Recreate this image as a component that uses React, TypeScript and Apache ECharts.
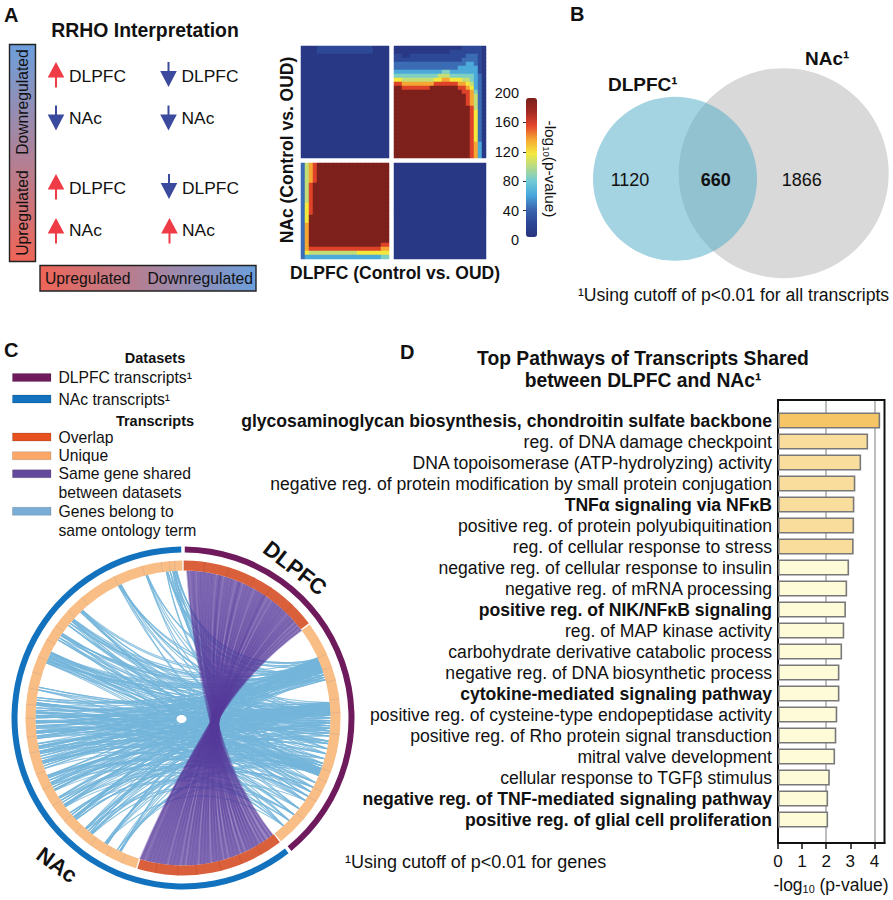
import React, { useEffect, useRef } from "react";
import * as echarts from "echarts";

const FONT = "'Liberation Sans', Arial, sans-serif";

// Panel A heatmap (level per cell)
const heatLevels = [5, 22, 42, 62, 85, 105, 120, 140, 162, 198];
const heatTopLeft = [
  "00111111100", "00000000000", "00000000000", "00000000000", "00000000000", "00000000000", "00000000000",
  "00000000000", "00000000000", "00000000000", "00000000000", "00000000000", "00000000000", "00000000000",
];
const heatBottomRight = ["00", "00"];
const heatTopRight = [
  "00000000000000000111110",
  "00000000000000111111110",
  "11001111111111111122210",
  "11111111111111111222210",
  "22222222222222222233210",
  "22222222222222223333310",
  "33333333333344333333310",
  "44444444444555444444320",
  "66555555556677666554320",
  "88777777778888887765320",
  "99888888899999998876320",
  "99999999999999999887420",
  "99999999999999999987520",
  "99999999999999999987520",
  "99999999999999999987520",
  "99999999999999999998520",
  "99999999999999999998620",
  "99999999999999999998620",
  "99999999999999999998620",
  "99999999999999999998620",
  "99999999999999999998620",
  "99999999999999999998620",
  "99999999999999999998620",
  "99999999999999999998620",
  "99999999999999999998730",
  "99999999999999999998730",
  "99999999999999999998730",
  "99999999999999999998730",
];
const heatBottomLeft = [
  "2578999999999999999999",
  "2578999999999999999999",
  "2578999999999999999999",
  "2578999999999999999999",
  "2578999999999999999999",
  "2589999999999999999999",
  "2589999999999999999999",
  "2589999999999999999999",
  "2589999999999999999999",
  "2589999999999999999999",
  "2689999999999999999999",
  "2689999999999999999999",
  "2689999999999999999999",
  "2699999999999999999999",
  "2699999999999999999999",
  "2799999999999999999999",
  "2799999999999999999999",
  "2799999999999999999999",
  "2799999999999999999999",
  "2799999999999999999999",
  "2799999999999999999988",
  "2788888888888888888877",
  "2655555555555566666666",
  "2333333333333333333344",
];
const colorbarRange = [0, 200];
const colorbarTickValues = [40, 80, 120, 160];
const heatColors = ["#27347f", "#2c4594", "#3a66b0", "#48a6dc", "#6fcbd6", "#b3d98a", "#f4e83d", "#f6a733", "#e4452a", "#a42a22", "#7a1f1b"];

// Panel C chord diagram (degrees clockwise from the top)
const outerArcs = [141, 218];
const innerArcs = [53, 88, 55, 162];
const outerColors = ["#6e1a5c", "#1272be"];
const innerColors = ["#d9603a", "#f9bd86", "#d9603a", "#f9bd86"];
const purpleDlpfc = [1.5, 3, 4, 6, 7.5, 9, 10.5, 12, 14, 15, 17, 18.5, 20, 22, 23, 25, 26.5, 28, 30, 31.5, 33, 34, 36, 38, 39.5, 41, 42.5, 44, 46, 47.5, 49, 50.5, 52, 53.5];
const purpleNac = [142.5, 144, 146, 147.5, 149.5, 151, 152.5, 154, 156, 158, 159.5, 161, 163, 165, 166.5, 168, 170, 171.5, 173, 175, 176.5, 178, 180, 182, 183.5, 185, 187, 188.5, 190, 191.5, 193, 194.5, 196, 197];
const nacEnds = [
  205, 205.5, 206.5, 211, 211.5, 212,
  218, 218.5, 219, 220, 221, 221.5,
  226.5, 227, 227.5, 228, 229, 230,
  233, 233.5, 234, 235, 236, 237, 237.5,
  240.5, 241, 242, 243, 243.5, 244, 245, 246, 246.5, 247,
  250, 251, 252, 252.5, 253, 254, 255, 256, 256.5, 257, 258, 258.5, 259, 260,
  262, 262.5, 263, 264, 264.5, 265, 266, 266.5, 267, 268, 268.5, 269, 270, 270.5, 271, 272, 272.5, 273, 274, 275, 275.5, 276, 277, 278,
  281, 282,
  292, 292.5, 293, 293.5, 294, 294.5, 295, 295.5, 296, 296.5,
  302, 303, 304, 304.5, 305,
  309, 310, 311, 311.5, 312,
  316, 316.5, 317,
  334, 334.5, 335,
  345.5, 346,
  353.5, 354, 355, 356, 356.5, 357, 357.5,
];
const dlpfcEnds = [
  66, 66.5, 67, 67.5, 68, 68.5, 69, 69.5, 70, 70.5, 71, 71.5, 72, 73, 74, 75,
  84, 84.5, 85, 85.5, 86, 86.5, 87, 87.5, 88, 88.5, 89, 90, 91, 92, 93, 94, 95, 96, 97,
  99, 100, 102, 104, 106,
  108, 109, 110, 110.5, 111, 111.5, 112, 112.5, 113,
  116, 118, 120, 122, 124,
  128, 131, 134, 137,
];
const trackTicks = [203, 209, 216, 223, 229, 236, 243, 249, 257, 263, 270, 275, 281, 287, 293, 300, 306, 313, 320, 334, 345, 352, 355, 357, 66, 71, 76, 83, 88, 96, 110, 114, 118, 122, 130];
const overlapTicks = [8, 17, 27, 34, 44, 150, 158, 166, 175, 182, 190];

// Panel D bars
const pathways = [
  "glycosaminoglycan biosynthesis, chondroitin sulfate backbone",
  "reg. of DNA damage checkpoint",
  "DNA topoisomerase (ATP-hydrolyzing) activity",
  "negative reg. of protein modification by small protein conjugation",
  "TNFα signaling via NFκB",
  "positive reg. of protein polyubiquitination",
  "reg. of cellular response to stress",
  "negative reg. of cellular response to insulin",
  "negative reg. of mRNA processing",
  "positive reg. of NIK/NFκB signaling",
  "reg. of MAP kinase activity",
  "carbohydrate derivative catabolic process",
  "negative reg. of DNA biosynthetic process",
  "cytokine-mediated signaling pathway",
  "positive reg. of cysteine-type endopeptidase activity",
  "positive reg. of Rho protein signal transduction",
  "mitral valve development",
  "cellular response to TGFβ stimulus",
  "negative reg. of TNF-mediated signaling pathway",
  "positive reg. of glial cell proliferation",
];
const boldPathways = [
  "glycosaminoglycan biosynthesis, chondroitin sulfate backbone",
  "TNFα signaling via NFκB",
  "positive reg. of NIK/NFκB signaling",
  "cytokine-mediated signaling pathway",
  "negative reg. of TNF-mediated signaling pathway",
  "positive reg. of glial cell proliferation",
];
const pValues = [4.24, 3.74, 3.45, 3.21, 3.17, 3.16, 3.14, 2.95, 2.87, 2.82, 2.75, 2.66, 2.55, 2.55, 2.46, 2.42, 2.37, 2.15, 2.08, 2.08];
const barTicks = [0, 1, 2, 3, 4];
const barGuides = [2, 4];

const CX = 183;
const CY = 718;
const R_IN = 147.5;

function polar(deg: number, r = R_IN) {
  const a = (deg * Math.PI) / 180;
  return [CX + r * Math.sin(a), CY - r * Math.cos(a)];
}
function fmt(p: number[]) {
  return `${p[0].toFixed(1)} ${p[1].toFixed(1)}`;
}
// Control point of a chord: on the bisector of its two ends, nearer the rim for short chords.
function chordCtrl(a: number, b: number) {
  const diff = Math.abs(a - b) > 180 ? 360 - Math.abs(a - b) : Math.abs(a - b);
  const chord = Math.sin((diff / 2) * (Math.PI / 180));
  let mid = (a + b) / 2;
  if (Math.abs(a - b) > 180) mid += 180;
  return polar(mid, R_IN * (1 - chord) * 0.7);
}
function cells(rows: string[]) {
  const out: number[][] = [];
  rows.forEach((row, y) => row.split("").forEach((c, x) => out.push([x, y, heatLevels[+c]])));
  return out;
}
function range(n: number) {
  return Array.from({ length: n }, (_, i) => String(i));
}

function T(text: string, x: number, y: number, o: any = {}) {
  return {
    type: "text",
    x,
    y,
    rotation: o.rotation || 0,
    z: 100,
    silent: true,
    style: {
      text,
      fontFamily: FONT,
      fontSize: o.size || 16,
      fontWeight: o.bold ? "bold" : "normal",
      fill: o.fill || "#111",
      align: o.align || "left",
      verticalAlign: "middle",
      rich: o.rich,
    },
  };
}
function arrow(x: number, y: number, up: boolean) {
  const p = up
    ? [[x, y], [x + 8.3, y + 15.5], [x + 1, y + 15.5], [x + 1, y + 25.5], [x - 1, y + 25.5], [x - 1, y + 15.5], [x - 8.3, y + 15.5]]
    : [[x, y + 25], [x + 8.3, y + 9], [x + 1, y + 9], [x + 1, y], [x - 1, y], [x - 1, y + 9], [x - 8.3, y + 9]];
  return { type: "polygon", silent: true, shape: { points: p }, style: { fill: up ? "#ee3b46" : "#3c4a9e" } };
}
function legendBar(y: number, fill: string) {
  return { type: "rect", silent: true, shape: { x: 12.5, y: y - 4, width: 38.5, height: 8 }, style: { fill, stroke: "#00000022", lineWidth: 1 } };
}

function buildGraphics() {
  const subRich = (size: number) => ({
    a: { fontFamily: FONT, fontSize: size, fill: "#111" },
    s: { fontFamily: FONT, fontSize: size * 0.62, fill: "#111", verticalAlign: "bottom", padding: [size * 0.5, 0, 0, 0] },
  });
  const redBlueV = new echarts.graphic.LinearGradient(0, 0, 0, 1, [
    { offset: 0, color: "#6c9fdc" },
    { offset: 1, color: "#ef6557" },
  ]);
  const redBlueH = new echarts.graphic.LinearGradient(0, 0, 1, 0, [
    { offset: 0, color: "#ef6557" },
    { offset: 1, color: "#6c9fdc" },
  ]);
  return [
    T("A", 4, 15, { size: 20, bold: true }),
    T("B", 570, 14, { size: 20, bold: true }),
    T("C", 4, 350, { size: 20, bold: true }),
    T("D", 400, 352, { size: 20, bold: true }),

    T("RRHO Interpretation", 145, 30, { size: 19.4, bold: true, align: "center" }),
    { type: "rect", silent: true, shape: { x: 9.5, y: 44.5, width: 26, height: 217 }, style: { fill: redBlueV, stroke: "#222", lineWidth: 1.4 } },
    { type: "rect", silent: true, shape: { x: 40, y: 265.5, width: 216, height: 25.5 }, style: { fill: redBlueH, stroke: "#222", lineWidth: 1.4 } },
    T("Downregulated", 22, 102, { size: 15.7, rotation: Math.PI / 2, align: "center" }),
    T("Upregulated", 22, 213, { size: 15.7, rotation: Math.PI / 2, align: "center" }),
    T("Upregulated", 45, 278, { size: 15.7 }),
    T("Downregulated", 253, 278, { size: 15.7, align: "right" }),
    arrow(56, 62, true), arrow(168.5, 62, false),
    arrow(56, 105.5, false), arrow(168.5, 105.5, false),
    arrow(56, 174, true), arrow(169, 174, false),
    arrow(56, 218, true), arrow(169.5, 218, true),
    T("DLPFC", 69, 76, { size: 17.4 }), T("DLPFC", 181.5, 76, { size: 17.4 }),
    T("NAc", 69, 118, { size: 17.4 }), T("NAc", 181.5, 118, { size: 17.4 }),
    T("DLPFC", 69, 188, { size: 17.4 }), T("DLPFC", 182, 188, { size: 17.4 }),
    T("NAc", 69, 229.5, { size: 17.4 }), T("NAc", 182, 229.5, { size: 17.4 }),
    T("NAc (Control vs. OUD)", 287, 150, { size: 17.5, bold: true, rotation: Math.PI / 2, align: "center" }),
    T("DLPFC (Control vs. OUD)", 395, 272.5, { size: 17.5, bold: true, align: "center" }),
    T("{a|-log}{s|10}{a|(p-value)}", 550, 169, { rotation: -Math.PI / 2, align: "center", rich: subRich(15.4) }),

    { type: "circle", silent: true, shape: { cx: 783.7, cy: 173.2, r: 105 }, style: { fill: "#d9d9d9" } },
    { type: "circle", silent: true, shape: { cx: 675, cy: 178.7, r: 82 }, style: { fill: "rgba(83,172,200,0.53)" } },
    T("DLPFC¹", 608, 84, { size: 19, bold: true }),
    T("NAc¹", 805, 58, { size: 19, bold: true }),
    T("1120", 630, 180, { size: 18, align: "center" }),
    T("660", 715.7, 180, { size: 18, bold: true, align: "center" }),
    T("1866", 801.7, 180, { size: 18, align: "center" }),
    T("¹Using cutoff of p<0.01 for all transcripts", 578, 295, { size: 17.6 }),

    T("Datasets", 155, 358, { size: 14.5, bold: true, align: "center" }),
    legendBar(377.5, "#6e1a5c"),
    T("DLPFC transcripts¹", 58.5, 377, { size: 15.7 }),
    legendBar(399, "#1272be"),
    T("NAc transcripts¹", 58.5, 399, { size: 15.7 }),
    T("Transcripts", 155, 421, { size: 14.5, bold: true, align: "center" }),
    legendBar(437, "#e5521f"),
    T("Overlap", 58.5, 437, { size: 15.7 }),
    legendBar(455.7, "#fba768"),
    T("Unique", 58.5, 455.5, { size: 15.7 }),
    legendBar(473.7, "#63499b"),
    T("Same gene shared", 58.5, 473.5, { size: 15.7 }),
    T("between datasets", 58.5, 492.5, { size: 15.7 }),
    legendBar(511.3, "#79add6"),
    T("Genes belong to", 58.5, 511, { size: 15.7 }),
    T("same ontology term", 58.5, 530, { size: 15.7 }),
    T("DLPFC", 295, 568, { size: 22, bold: true, rotation: -0.66, align: "center" }),
    T("NAc", 57, 865, { size: 22, bold: true, rotation: -0.63, align: "center" }),
    { type: "ellipse", silent: true, z: 100, shape: { cx: 181.5, cy: 719, rx: 5, ry: 4 }, style: { fill: "#fff" } },

    T("Top Pathways of Transcripts Shared", 643, 358, { size: 19.3, bold: true, align: "center" }),
    T("between DLPFC and NAc¹", 643, 380, { size: 19.3, bold: true, align: "center" }),
    T("¹Using cutoff of p<0.01 for genes", 345, 862, { size: 18 }),
    T("{a|-log}{s|10}{a| (p-value)}", 831, 885, { align: "center", rich: subRich(17.5) }),
  ];
}

function heatSeries(rows: string[], index: number) {
  return {
    type: "heatmap",
    xAxisIndex: index,
    yAxisIndex: index,
    data: cells(rows),
    silent: true,
    itemStyle: { borderWidth: 0 },
    progressive: 0,
  };
}

function buildOption() {
  const heatGrids = [
    { left: 301, top: 46, width: 88, height: 112 },
    { left: 394, top: 46, width: 92, height: 112 },
    { left: 301, top: 163, width: 88, height: 96 },
    { left: 394, top: 163, width: 92, height: 96 },
  ];
  const heatRows = [heatTopLeft, heatTopRight, heatBottomLeft, heatBottomRight];
  const hiddenCat = (rows: string[], axis: "x" | "y", gridIndex: number) => ({
    type: "category",
    gridIndex,
    show: false,
    inverse: axis === "y",
    data: axis === "x" ? range(rows[0].length) : range(rows.length),
  });

  const n = dlpfcEnds.length;
  const blueData = [
    ...nacEnds.map((a, i) => [a, dlpfcEnds[(i * 23) % n]]),
    ...nacEnds.map((a, i) => [a, dlpfcEnds[(i * 37 + 7) % n]]),
    ...nacEnds.map((a, i) => [a, dlpfcEnds[(i * 11 + 31) % n]]),
  ];
  const last = purpleDlpfc.length - 1;
  const purpleHull = [[purpleDlpfc[0], purpleDlpfc[last], purpleNac[0], purpleNac[last]]];
  const streakData = [
    ...purpleDlpfc.map((a, i) => [a, purpleNac[i]]),
    ...purpleDlpfc.slice(0, -4).map((a, i) => [a + 0.6, purpleNac[i + 4] - 0.6]),
    ...purpleDlpfc.slice(3).map((a, i) => [a - 0.5, purpleNac[i] + 0.4]),
  ];
  const tickData = trackTicks.map((a) => [a, 0]).concat(overlapTicks.map((a) => [a, 1]));

  const purpleCtrl = (deg: number) => {
    const t = (deg - 1) / 53;
    return [198 + 9 * t, 742 - 44 * t];
  };
  const rimTo = (angles: number[]) => angles.map((d) => `L${fmt(polar(d))}`).join(" ");

  return {
    animation: false,
    textStyle: { fontFamily: FONT },
    graphic: buildGraphics(),
    grid: [
      ...heatGrids,
      { left: 526, top: 93, width: 11, height: 147 },
      { left: 778, top: 400, width: 106.5, height: 443, show: true, borderColor: "#111", borderWidth: 2, backgroundColor: "transparent", z: 3 },
      { left: 778, top: 410, width: 106.5, height: 420 },
    ],
    xAxis: [
      ...heatRows.map((r, i) => hiddenCat(r, "x", i)),
      { type: "category", gridIndex: 4, show: false, data: ["0"] },
      {
        type: "value",
        gridIndex: 5,
        min: 0,
        max: 4.42,
        interval: 1,
        splitLine: { show: false },
        axisLine: { show: true, lineStyle: { color: "#111", width: 2 } },
        axisTick: { show: true, customValues: barTicks, length: 6, lineStyle: { color: "#111", width: 1.5 } },
        axisLabel: { customValues: barTicks, color: "#111", fontSize: 17, fontFamily: FONT, margin: 10, hideOverlap: false },
      },
      { type: "value", gridIndex: 6, min: 0, max: 4.42, show: false },
    ],
    yAxis: [
      ...heatRows.map((r, i) => hiddenCat(r, "y", i)),
      {
        type: "value",
        gridIndex: 4,
        min: 0,
        max: 200,
        interval: 40,
        splitLine: { show: false },
        axisLine: { show: false },
        axisTick: { show: true, customValues: colorbarTickValues, length: 3, lineStyle: { color: "#333" } },
        axisLabel: { color: "#111", fontSize: 14.5, fontFamily: FONT, margin: 7 },
      },
      { type: "value", gridIndex: 5, min: 0, max: 1, show: false },
      {
        type: "category",
        gridIndex: 6,
        inverse: true,
        data: pathways,
        axisLine: { show: false },
        axisTick: { show: false },
        axisLabel: {
          interval: 0,
          margin: 6,
          fontSize: 17.6,
          fontFamily: FONT,
          color: "#111",
          formatter: (v: string) => (boldPathways.includes(v) ? `{b|${v}}` : v),
          rich: { b: { fontWeight: "bold", fontSize: 17.6, fontFamily: FONT, color: "#111" } },
        },
      },
    ],
    visualMap: {
      type: "continuous",
      seriesIndex: [0, 1, 2, 3],
      min: colorbarRange[0],
      max: colorbarRange[1],
      left: 526,
      top: 98,
      itemWidth: 11,
      itemHeight: 139,
      padding: 0,
      text: ["", ""],
      calculable: false,
      inRange: { color: heatColors },
    },
    series: [
      ...heatRows.map((r, i) => heatSeries(r, i)),
      {
        type: "line",
        xAxisIndex: 5,
        yAxisIndex: 5,
        data: [],
        silent: true,
        z: 1,
        markLine: {
          silent: true,
          symbol: "none",
          z: 1,
          label: { show: false },
          lineStyle: { color: "#bdbdbd", width: 2, type: "solid" },
          data: barGuides.map((v) => ({ xAxis: v })),
        },
      },
      {
        type: "bar",
        xAxisIndex: 6,
        yAxisIndex: 6,
        barWidth: 16,
        z: 4,
        silent: true,
        data: pValues.map((v, i) => ({
          value: v,
          itemStyle: {
            color: i === 0 ? "#f6c566" : i < 7 ? "#f9dd9c" : "#fefbd8",
            borderColor: "#787878",
            borderWidth: 1.6,
          },
        })),
      },
      {
        type: "custom",
        coordinateSystem: "none",
        silent: true,
        z: 2,
        data: blueData,
        renderItem: (_: any, api: any) => {
          const a = api.value(0);
          const b = api.value(1);
          return {
            type: "path",
            shape: { pathData: `M${fmt(polar(a))} Q${fmt(chordCtrl(a, b))} ${fmt(polar(b))}` },
            style: { fill: "none", stroke: "#74b5db", lineWidth: 1.1, opacity: 0.8 },
          };
        },
      },
      {
        type: "custom",
        coordinateSystem: "none",
        silent: true,
        z: 3,
        data: purpleHull,
        renderItem: (_: any, api: any) => {
          const a0 = api.value(0);
          const a1 = api.value(1);
          const b0 = api.value(2);
          const b1 = api.value(3);
          return {
            type: "path",
            shape: {
              pathData: `M${fmt(polar(a0))} Q${fmt(purpleCtrl(a0))} ${fmt(polar(b0))} ${rimTo(purpleNac.slice(1))} Q${fmt(purpleCtrl(a1))} ${fmt(polar(a1))} ${rimTo(purpleDlpfc.slice(0, -1).reverse())} Z`,
            },
            style: { fill: "#5b3c9c", opacity: 0.62 },
          };
        },
      },
      {
        type: "custom",
        coordinateSystem: "none",
        silent: true,
        z: 3,
        data: streakData,
        renderItem: (_: any, api: any) => {
          const a = api.value(0);
          const b = api.value(1);
          return {
            type: "path",
            shape: { pathData: `M${fmt(polar(a))} Q${fmt(purpleCtrl(a))} ${fmt(polar(b))}` },
            style: { fill: "none", stroke: "#573a9a", lineWidth: 1.8, opacity: 0.32 },
          };
        },
      },
      {
        type: "pie",
        center: [CX, CY],
        radius: [165.5, 171.5],
        startAngle: 90,
        padAngle: 1.2,
        silent: true,
        z: 4,
        label: { show: false },
        labelLine: { show: false },
        data: outerArcs.map((v, i) => ({ value: v, itemStyle: { color: outerColors[i] } })),
      },
      {
        type: "pie",
        center: [CX, CY],
        radius: [R_IN, 157.5],
        startAngle: 90,
        padAngle: 0.5,
        silent: true,
        z: 4,
        label: { show: false },
        labelLine: { show: false },
        data: innerArcs.map((v, i) => ({ value: v, itemStyle: { color: innerColors[i] } })),
      },
      {
        type: "custom",
        coordinateSystem: "none",
        silent: true,
        z: 5,
        data: tickData,
        renderItem: (_: any, api: any) => {
          const d = api.value(0);
          return {
            type: "path",
            shape: { pathData: `M${fmt(polar(d, R_IN))} L${fmt(polar(d, 157.5))}` },
            style: { stroke: api.value(1) ? "#c8552f" : "#e0b088", lineWidth: 0.8, fill: "none" },
          };
        },
      },
    ],
  };
}

export default function App() {
  const ref = useRef<HTMLDivElement>(null);
  useEffect(() => {
    const chart = echarts.init(ref.current!, undefined, { renderer: "svg" });
    chart.setOption(buildOption() as any);
    return () => chart.dispose();
  }, []);
  return <div ref={ref} style={{ position: "fixed", left: 0, top: 0, width: 893, height: 900, background: "#fff" }} />;
}
